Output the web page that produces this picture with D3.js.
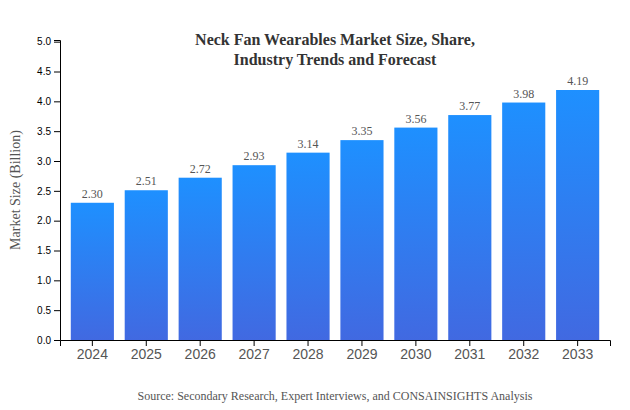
<!DOCTYPE html>
<html>
<head>
<meta charset="utf-8">
<script src="https://cdnjs.cloudflare.com/ajax/libs/d3/7.8.5/d3.min.js"></script>
<style>
  body { margin: 0; background: #fff; }
  svg { display: block; }
</style>
</head>
<body>
<div id="chart"></div>
<script>
// 1: DATA
const years = ["2024", "2025", "2026", "2027", "2028", "2029", "2030", "2031", "2032", "2033"];
const marketSize = [2.30, 2.51, 2.72, 2.93, 3.14, 3.35, 3.56, 3.77, 3.98, 4.19];
const titleLines = ["Neck Fan Wearables Market Size, Share,", "Industry Trends and Forecast"];
const yLabel = "Market Size (Billion)";
const sourceText = "Source: Secondary Research, Expert Interviews, and CONSAINSIGHTS Analysis";

// 2: GLOBAL VARIABLES
const margin = { top: 40, right: 20, bottom: 70, left: 60 };
const width = 630 - margin.left - margin.right;
const height = 410 - margin.top - margin.bottom;
const serif = "'Liberation Serif', 'Times New Roman', serif";
const sans = "'Liberation Sans', Arial, sans-serif";

const root = d3.select("#chart")
    .append("svg")
    .attr("width", 630)
    .attr("height", 410);

const grad = root.append("defs")
    .append("linearGradient")
    .attr("id", "barFill")
    .attr("x1", "0%").attr("y1", "0%")
    .attr("x2", "0%").attr("y2", "100%");
grad.append("stop").attr("offset", "0%").attr("stop-color", "#1e90ff");
grad.append("stop").attr("offset", "100%").attr("stop-color", "#4169e1");

const svg = root.append("g")
    .attr("transform", `translate(${margin.left},${margin.top})`);

// 3: SCALES
const xScale = d3.scaleBand()
    .domain(years)
    .range([0, width])
    .padding(0.2);

// top of the axis sits a bit above the tallest bar
const yScale = d3.scaleLinear()
    .domain([0, d3.max(marketSize) * 1.2])
    .range([height, 0]);

// 4: BARS
svg.selectAll(".bar")
    .data(years)
    .enter()
    .append("rect")
    .attr("class", "bar")
    .attr("x", d => xScale(d))
    .attr("y", (d, i) => yScale(marketSize[i]))
    .attr("width", xScale.bandwidth())
    .attr("height", (d, i) => height - yScale(marketSize[i]))
    .style("fill", "url(#barFill)");

// 5: VALUE LABELS
svg.selectAll(".value")
    .data(years)
    .enter()
    .append("text")
    .attr("class", "value")
    .attr("x", d => xScale(d) + xScale.bandwidth() / 2)
    .attr("y", (d, i) => yScale(marketSize[i]) - 5)
    .attr("text-anchor", "middle")
    .style("font-family", serif)
    .style("font-size", "12px")
    .style("fill", "#555")
    .text((d, i) => marketSize[i].toFixed(2));

// 6: AXES
const xAxis = svg.append("g")
    .attr("transform", `translate(0,${height})`)
    .call(d3.axisBottom(xScale));
xAxis.selectAll("text")
    .style("font-family", sans)
    .style("font-size", "14px")
    .style("fill", "#555");

const yAxis = svg.append("g")
    .call(d3.axisLeft(yScale).tickFormat(d3.format(".1f")));
yAxis.selectAll("text")
    .style("font-family", sans)
    .style("font-size", "10px");

// 7: LABELS
svg.selectAll(".title")
    .data(titleLines)
    .enter()
    .append("text")
    .attr("class", "title")
    .attr("x", width / 2)
    .attr("y", (d, i) => i * 20 + 5)
    .attr("text-anchor", "middle")
    .style("font-family", serif)
    .style("font-size", "16px")
    .style("font-weight", "bold")
    .style("fill", "#333")
    .text(d => d);

svg.append("text")
    .attr("transform", "rotate(-90)")
    .attr("x", -height / 2)
    .attr("y", -40)
    .attr("text-anchor", "middle")
    .style("font-family", serif)
    .style("font-size", "14px")
    .style("fill", "#555")
    .text(yLabel);

svg.append("text")
    .attr("x", width / 2)
    .attr("y", height + 60)
    .attr("text-anchor", "middle")
    .style("font-family", serif)
    .style("font-size", "12px")
    .style("fill", "#555")
    .text(sourceText);
</script>
</body>
</html>
